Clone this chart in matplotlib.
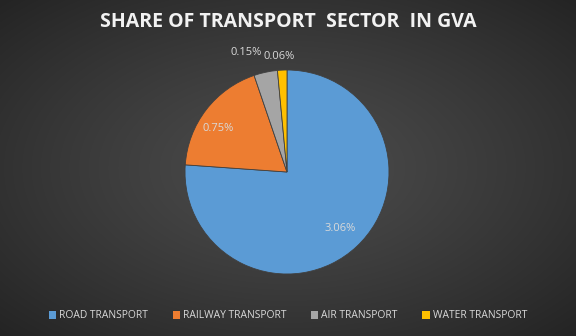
import numpy as np
import matplotlib
matplotlib.use("Agg")
import matplotlib.pyplot as plt
from matplotlib.patches import Patch

categories = ["ROAD TRANSPORT", "RAILWAY TRANSPORT", "AIR TRANSPORT", "WATER TRANSPORT"]
values = [3.06, 0.75, 0.15, 0.06]
labels = ["3.06%", "0.75%", "0.15%", "0.06%"]
colors = ["#5B9BD5", "#ED7D31", "#A5A5A5", "#FFC000"]
title = "SHARE OF TRANSPORT  SECTOR  IN GVA"

fig = plt.figure(figsize=(5.76, 3.36), dpi=100)

# radial gradient background
bg = fig.add_axes([0, 0, 1, 1])
yy, xx = np.mgrid[-1:1:336j, -1:1:576j]
rr = np.sqrt((xx * 1.0) ** 2 + (yy * 1.0) ** 2) / np.sqrt(2)
c0, c1 = 0x4c / 255, 0x24 / 255
img = c0 + (c1 - c0) * np.clip(rr, 0, 1) ** 1.2
bg.imshow(np.dstack([img, img, img]), aspect="auto", extent=[0, 1, 0, 1])
bg.set_axis_off()

ax = fig.add_axes([0, 0, 1, 1])
ax.set_axis_off()
ax.set_facecolor("none")

wedges, _ = ax.pie(values, colors=colors, startangle=90, counterclock=False,
                   radius=1.0, wedgeprops=dict(linewidth=0.6, edgecolor="#404040"))
W, H = 576, 336
rpx = 102
ax.set_position([(287 - rpx) / W, (336 - 172 - rpx) / H, 2 * rpx / W, 2 * rpx / H])
ax.set_xlim(-1, 1)
ax.set_ylim(-1, 1)

dists = [0.76, 0.80, 1.24, 1.13]
offsets = [0, 5, 7, 1]
for w, lab, d, off in zip(wedges, labels, dists, offsets):
    ang = np.deg2rad((w.theta1 + w.theta2) / 2 + off)
    ax.text(d * np.cos(ang), d * np.sin(ang), lab, ha="center", va="center",
            fontsize=8, color="#d9d9d9", family="Open Sans")

# title with slightly wider letter spacing
fig.text(0.5, 1 - 22 / 336, title, ha="center", va="center", fontsize=14,
         fontweight="bold", color="#f2f2f2", family="Open Sans")

handles = [Patch(facecolor=c, edgecolor="none") for c in colors]
leg = fig.legend(handles, categories, loc="center", bbox_to_anchor=(0.5, 1 - 316 / 336),
                 ncol=4, frameon=False, handlelength=0.7, handleheight=0.7,
                 handletextpad=0.3, columnspacing=2.4, prop=dict(family="Open Sans", size=7.4))
for t in leg.get_texts():
    t.set_color("#d9d9d9")

fig.savefig("out.png", dpi=100)
